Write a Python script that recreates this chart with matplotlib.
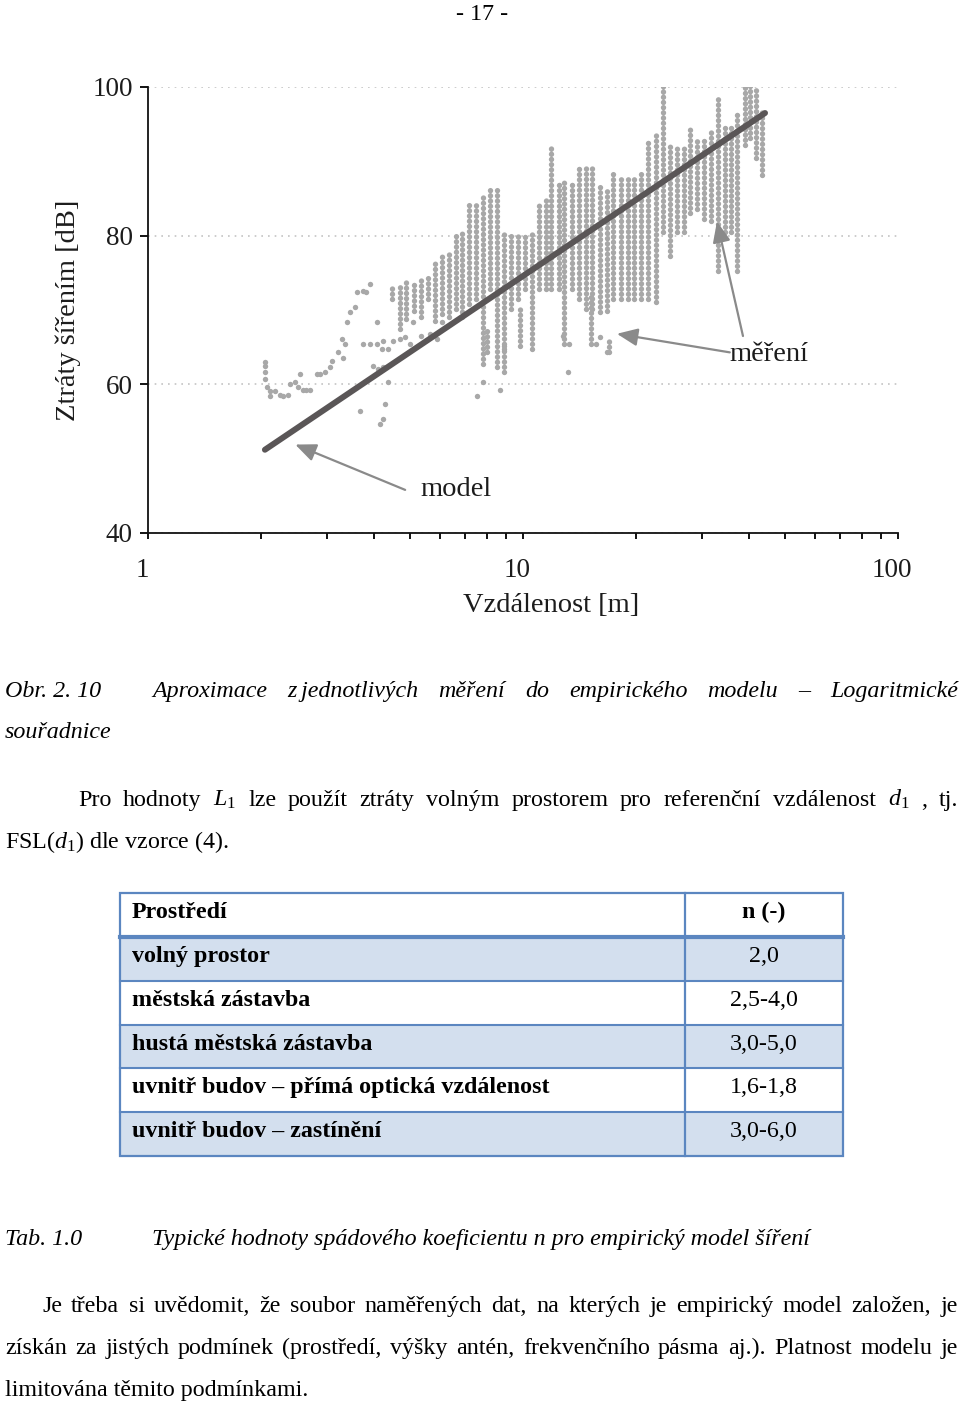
import matplotlib
matplotlib.use("Agg")
import matplotlib.pyplot as plt
from matplotlib.patches import Rectangle
from matplotlib.ticker import NullFormatter
from matplotlib.transforms import ScaledTranslation

plt.rcParams["font.family"] = "Liberation Serif"
plt.rcParams["mathtext.fontset"] = "custom"
plt.rcParams["mathtext.rm"] = "Liberation Serif"
plt.rcParams["mathtext.it"] = "Liberation Serif:italic"

# measured losses, drawn as vertical columns of dots: distance [m], low/high [dB]
col_d = [4.47, 4.70, 4.89, 5.12, 5.34, 5.58, 5.83, 6.08, 6.35, 6.62,
         6.88, 7.18, 7.50, 7.83, 8.17, 8.53, 8.91, 9.30, 9.71, 10.1,
         10.6, 11.0, 11.5, 11.9, 12.5, 12.9, 13.5, 14.1, 14.7, 15.3,
         16.0, 16.7, 17.4, 18.2, 19.0, 19.8, 20.7, 21.6, 22.6, 23.6,
         24.6, 25.7, 26.8, 27.9, 29.1, 30.4, 31.7, 33.1, 34.6, 35.9,
         37.3, 39.0, 40.3, 41.9, 43.4,
         8.91, 8.0, 9.8, 15.2, 17.0]
col_lo = [71.5, 67.4, 68.8, 69.9, 69.1, 71.5, 68.5, 69.5, 69.1, 70.1,
          69.1, 70.8, 71.5, 62.7, 72.8, 62.3, 64.7, 70.1, 71.5, 72.8,
          64.7, 72.8, 72.8, 72.8, 72.8, 65.4, 72.8, 71.5, 70.1, 70.1,
          69.7, 69.9, 71.5, 71.5, 71.5, 71.5, 71.5, 71.5, 71.1, 80.5,
          77.3, 80.5, 80.5, 83.0, 83.6, 82.3, 82.0, 75.3, 80.5, 80.5,
          75.3, 92.2, 93.1, 90.4, 88.1,
          61.6, 64.3, 65.1, 65.4, 64.3]
col_hi = [73.2, 73.5, 73.8, 73.8, 74.2, 74.6, 76.6, 77.2, 77.6, 79.9,
          80.5, 84.3, 84.6, 85.7, 86.4, 86.6, 80.5, 80.5, 80.5, 80.3,
          80.3, 84.3, 85.0, 91.8, 87.0, 87.7, 87.0, 89.5, 89.5, 89.1,
          87.0, 86.4, 88.4, 88.0, 87.7, 88.0, 88.4, 93.1, 93.5, 100.8,
          92.2, 91.8, 92.0, 94.9, 92.7, 92.7, 94.5, 98.9, 94.5, 94.5,
          96.9, 100.8, 100.8, 99.9, 96.8,
          65.7, 67.4, 70.5, 72.4, 66.4]

# single scattered measurements
pt_d = [2.05, 2.05, 2.05, 2.05, 2.08, 2.12, 2.18, 2.25, 2.29, 2.36, 2.12,
        2.39, 2.47, 2.51, 2.54, 2.59, 2.64, 2.70, 2.82, 2.87, 2.96,
        3.06, 3.09, 3.21, 3.29, 3.39, 3.46, 3.57, 3.61, 3.74, 3.91, 3.81,
        3.74, 3.91, 4.08, 4.21, 4.37, 4.23, 4.50, 4.70, 4.84, 5.00,
        5.36, 5.65, 5.89, 4.08, 5.09, 6.08, 3.98, 4.10, 4.23, 4.37,
        3.68, 4.28, 4.23, 4.15, 3.35, 3.31,
        8.68, 7.55, 7.83, 13.2, 12.8, 13.3, 15.7, 16.8, 16.0]
pt_db = [63.0, 62.4, 61.6, 60.7, 59.6, 59.1, 59.1, 58.6, 58.4, 58.6, 58.4,
         60.0, 60.3, 59.7, 61.4, 59.3, 59.3, 59.3, 61.4, 61.4, 61.6,
         62.3, 63.1, 64.3, 66.1, 68.4, 69.7, 70.4, 72.4, 72.6, 73.5, 72.4,
         65.4, 65.4, 65.4, 64.7, 64.7, 65.8, 65.8, 66.1, 66.4, 65.4,
         66.5, 66.8, 66.1, 68.4, 68.4, 68.4, 62.4, 62.0, 62.3, 60.3,
         56.4, 57.3, 55.3, 54.6, 65.4, 63.6,
         59.3, 58.4, 60.3, 61.6, 66.5, 65.4, 65.4, 64.3, 66.4]

# fitted empirical model (straight line on log axis)
model_d = [2.05, 44.2]
model_db = [51.2, 96.5]

y_ticks = [40, 60, 80, 100]
x_ticks = [1, 10, 100]
x_tick_labels = ["1", "10", "100"]

table_header = ["Prostředí", "n (-)"]
table_env = ["volný prostor", "městská zástavba", "hustá městská zástavba",
             "uvnitř budov – přímá optická vzdálenost", "uvnitř budov – zastínění"]
table_n = ["2,0", "2,5-4,0", "3,0-5,0", "1,6-1,8", "3,0-6,0"]

W, H = 960, 1402
fig = plt.figure(figsize=(W / 100, H / 100), dpi=100)
page = fig.add_axes([0, 0, 1, 1])
page.set_xlim(0, W)
page.set_ylim(H, 0)
page.axis("off")

TXT = 17.3
CH = 20.5
GRAY = "#a8a8a8"
INK = "#1c1c1c"

# ---- chart ----
ax = fig.add_axes([148 / W, 1 - 533 / H, 750 / W, 446 / H])
ax.set_facecolor("none")
ax.set_xscale("log")
ax.set_xlim(1, 100)
ax.set_ylim(40, 100)
for s in ("top", "right"):
    ax.spines[s].set_visible(False)
for s in ("left", "bottom"):
    ax.spines[s].set_linewidth(1.3)
    ax.spines[s].set_color("#111111")

ax.set_yticks(y_ticks)
ax.set_yticklabels([str(v) for v in y_ticks])
ax.set_xticks(x_ticks)
ax.set_xticklabels(x_tick_labels)
ax.xaxis.set_minor_formatter(NullFormatter())
ax.tick_params(axis="y", direction="out", length=6, width=1.3, pad=5,
               labelsize=19.5, labelcolor=INK)
ax.tick_params(axis="x", which="both", direction="out", length=4, width=1.3,
               pad=14, labelsize=19.5, labelcolor=INK)
for lab in ax.get_xticklabels():
    lab.set_transform(lab.get_transform() + ScaledTranslation(-0.06, 0, fig.dpi_scale_trans))
ax.grid(axis="y", linestyle=(0, (1, 3)), color="#c4c4c4", linewidth=1.2)
ax.grid(axis="x", which="both", visible=False)

cols = ax.vlines(col_d, col_lo, col_hi, colors=GRAY, linewidth=3.9,
                 linestyles=[(0, (0.01, 0.95))], zorder=2)
cols.set_capstyle("round")
ax.scatter(pt_d, pt_db, s=15, color=GRAY, linewidths=0, zorder=2)
ax.plot(model_d, model_db, color="#5a5657", linewidth=4.3,
        solid_capstyle="round", zorder=3)

arrow = dict(arrowstyle="-|>,head_length=0.7,head_width=0.3",
             color="#8a8a8a", lw=1.6, mutation_scale=18, shrinkA=0, shrinkB=0)
ax.annotate("", xy=(2.47, 51.9), xytext=(4.85, 45.8), arrowprops=arrow)
ax.text(5.31, 45.8, "model", fontsize=CH, color=INK, ha="left", va="center")
ax.annotate("", xy=(17.8, 66.8), xytext=(35.6, 64.3), arrowprops=arrow)
ax.annotate("", xy=(32.9, 81.9), xytext=(38.6, 66.5), arrowprops=arrow)
ax.text(35.6, 64.0, "měření", fontsize=CH, color=INK, ha="left", va="center")

page.text(68, 310, "Ztráty šířením [dB]", rotation=90, ha="center", va="center",
          fontsize=CH, color=INK)
page.text(551, 606, "Vzdálenost [m]", ha="center", va="center", fontsize=CH, color=INK)

# ---- page text ----
renderer = fig.canvas.get_renderer()


def justify(words, y, x0, x1, **kw):
    texts = [page.text(x0, y, w, va="baseline", fontsize=TXT, **kw) for w in words]
    widths = [t.get_window_extent(renderer).width for t in texts]
    gap = (x1 - x0 - sum(widths)) / (len(words) - 1)
    x = x0
    for t, w in zip(texts, widths):
        t.set_x(x)
        x += w + gap


page.text(482, 20, "- 17 -", ha="center", va="baseline", fontsize=TXT)

page.text(5, 697, "Obr. 2. 10", va="baseline", fontsize=TXT, style="italic")
justify(["Aproximace", "z\u2009jednotlivých", "měření", "do", "empirického",
         "modelu", "–", "Logaritmické"], 697, 152, 958, style="italic")
page.text(5, 738, "souřadnice", va="baseline", fontsize=TXT, style="italic")

justify(["Pro", "hodnoty", r"$L_{\mathit{1}}$", "lze", "použít", "ztráty", "volným",
         "prostorem", "pro", "referenční", "vzdálenost", r"$d_{\mathit{1}}$", ",", "tj."],
        806, 78, 958)
page.text(5, 848, r"FSL($d_{\mathit{1}}$) dle vzorce (4).", va="baseline", fontsize=TXT)

# ---- table ----
BLUE = "#5b86c0"
FILL = "#d3dfee"
tx0, tx1, tcol = 120, 843, 685
head_top, head_bot = 893, 937
row_h = 43.8
for i in range(len(table_env)):
    top = head_bot + i * row_h
    if i % 2 == 0:
        page.add_patch(Rectangle((tx0, top), tx1 - tx0, row_h, facecolor=FILL,
                                 edgecolor="none", zorder=1))
    if i > 0:
        page.plot([tx0, tx1], [top, top], color=BLUE, lw=1.5, zorder=2)
    page.text(132, top + row_h / 2 + 3, table_env[i], fontsize=TXT,
              fontweight="bold", va="baseline", zorder=3)
    page.text(764, top + row_h / 2 + 3, table_n[i], fontsize=TXT,
              ha="center", va="baseline", zorder=3)
t_bot = head_bot + len(table_env) * row_h
page.add_patch(Rectangle((tx0, head_top), tx1 - tx0, t_bot - head_top,
                         facecolor="none", edgecolor=BLUE, lw=1.6, zorder=2))
page.plot([tcol, tcol], [head_top, t_bot], color=BLUE, lw=1.6, zorder=2)
page.plot([tx0, tx1], [head_bot, head_bot], color=BLUE, lw=3.0, zorder=2)
page.text(132, 918, table_header[0], fontsize=TXT, fontweight="bold", va="baseline")
page.text(764, 918, table_header[1], fontsize=TXT, fontweight="bold",
          ha="center", va="baseline")

page.text(5, 1245, "Tab. 1.0", va="baseline", fontsize=TXT, style="italic")
page.text(152, 1245, "Typické hodnoty spádového koeficientu n pro empirický model šíření",
          va="baseline", fontsize=TXT, style="italic")

justify("Je třeba si uvědomit, že soubor naměřených dat, na kterých je empirický "
        "model založen, je".split(), 1312, 42, 958)
justify("získán za jistých podmínek (prostředí, výšky antén, frekvenčního pásma "
        "aj.). Platnost modelu je".split(), 1354, 5, 958)
page.text(5, 1396, "limitována těmito podmínkami.", va="baseline", fontsize=TXT)

fig.savefig("out.png", dpi=100)
